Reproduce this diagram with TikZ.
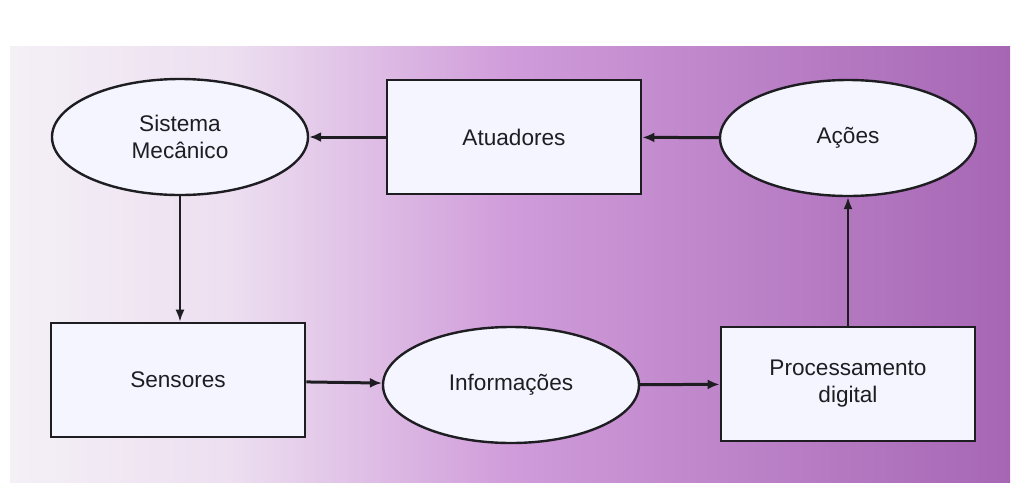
\documentclass[tikz,border=0pt]{standalone}
\usepackage{fontspec}
\setmainfont{Liberation Sans}
\usepackage{tikz}
\usetikzlibrary{arrows.meta,shapes.geometric}
\definecolor{bgl}{RGB}{244,240,246}
\definecolor{bgm}{RGB}{208,156,218}
\definecolor{bgr}{RGB}{166,102,180}
\definecolor{ink}{RGB}{30,30,34}
\pgfdeclarehorizontalshading{paper}{100bp}{color(0bp)=(bgl); color(25bp)=(bgl); color(36bp)=(bgl!80!bgm); color(50bp)=(bgm); color(75bp)=(bgr); color(100bp)=(bgr)}
\tikzstyle{box}=[draw=ink,line width=1.4pt,fill=white!96!blue,rectangle,minimum width=127pt,minimum height=57pt,inner sep=0pt,align=center,text=ink]
\tikzstyle{oval}=[draw=ink,line width=1.2pt,fill=white!96!blue,ellipse,minimum width=128pt,minimum height=58pt,inner sep=0pt,align=center,text=ink]
\tikzstyle{flow} = [draw=ink,line width=1.5pt,-{Latex[length=6pt,width=5pt]}]
\tikzstyle{rise} = [draw=ink,line width=0.9pt,-{Latex[length=6pt,width=4.5pt]}]

\begin{document}
\begin{tikzpicture}[x=0.5pt,y=-0.5pt,font=\fontsize{11.3}{13.5}\selectfont]
    \useasboundingbox (0,0) rectangle (1029,494);
    % the tinted page behind the chart
    \shade[shading=paper] (10,46) rectangle (1010,482);
    % First we draw the boxes and the ovals
    \foreach \pos/\name/\txt in {{(514,137)/atu/Atuadores}, {(178,380)/sen/Sensores}, {(848,384)/pro/{Processamento\\digital}}}
        \node[box] (\name) at \pos {\txt};
    \foreach \pos/\name/\txt in {{(180,137)/sis/{Sistema\\Mecânico}}, {(848,138)/aco/Ações}, {(511,385)/inf/Informações}}
        \node[oval] (\name) at \pos {\txt};
    % Connect them with arrows
    \foreach \source/ \dest in {aco/atu, atu/sis, sen/inf, inf/pro}
        \path[flow] (\source) -- (\dest);
    \path[rise] (sis) -- (sis |- sen.north);
    \path[rise] (pro) -- (aco);
\end{tikzpicture}
\end{document}
